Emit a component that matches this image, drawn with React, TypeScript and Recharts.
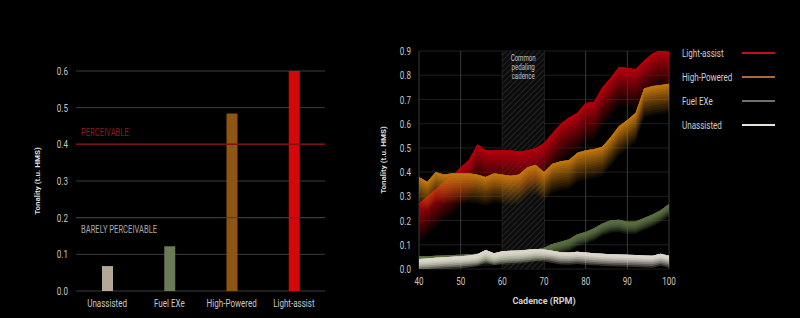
import React from "react";
import {
  BarChart,
  Bar,
  Cell,
  AreaChart,
  Area,
  XAxis,
  YAxis,
  CartesianGrid,
  ReferenceLine,
  ReferenceArea,
} from "recharts";

// Left: average tonality per bike
const bikeNames = ["Unassisted", "Fuel EXe", "High-Powered", "Light-assist"];
const bikeTonality = [0.068, 0.122, 0.484, 0.6];
const bikeColors = ["#b3a797", "#6b7b59", "#8f5512", "#d40808"];
const bikeTicks = [0, 0.1, 0.2, 0.3, 0.4, 0.5, 0.6];

// Right: tonality vs cadence
const cadence = [40, 42, 44, 46, 48, 50, 52, 54, 56, 58, 60, 62, 64, 66, 68, 70, 72, 74, 76, 78, 80, 82, 84, 86, 88, 90, 92, 94, 96, 98, 100];
const lightAssist = [0.27, 0.3, 0.33, 0.36, 0.385, 0.42, 0.45, 0.515, 0.49, 0.49, 0.49, 0.49, 0.485, 0.49, 0.5, 0.52, 0.56, 0.6, 0.625, 0.645, 0.685, 0.69, 0.75, 0.79, 0.835, 0.83, 0.825, 0.86, 0.89, 0.905, 0.895];
const highPowered = [0.38, 0.36, 0.4, 0.39, 0.395, 0.395, 0.395, 0.39, 0.38, 0.395, 0.39, 0.385, 0.39, 0.42, 0.43, 0.4, 0.435, 0.445, 0.45, 0.48, 0.49, 0.495, 0.505, 0.545, 0.59, 0.615, 0.645, 0.745, 0.755, 0.76, 0.765];
const fuelExe = [0.05, 0.05, 0.052, 0.053, 0.055, 0.056, 0.058, 0.06, 0.06, 0.062, 0.063, 0.065, 0.068, 0.072, 0.078, 0.085, 0.1, 0.11, 0.12, 0.14, 0.15, 0.165, 0.185, 0.198, 0.2, 0.192, 0.193, 0.208, 0.222, 0.24, 0.265];
const unassisted = [0.038, 0.04, 0.043, 0.046, 0.048, 0.05, 0.053, 0.058, 0.075, 0.062, 0.07, 0.072, 0.073, 0.076, 0.08, 0.078, 0.072, 0.066, 0.065, 0.068, 0.065, 0.062, 0.06, 0.058, 0.057, 0.056, 0.055, 0.053, 0.052, 0.06, 0.052];
const cadenceTicks = [40, 50, 60, 70, 80, 90, 100];
const tonalityTicks = [0, 0.1, 0.2, 0.3, 0.4, 0.5, 0.6, 0.7, 0.8, 0.9];

const FONT = "Roboto, 'Liberation Sans', sans-serif";
const SX = 0.7; // fake a condensed face

const barData = bikeNames.map((name, i) => ({ name, value: bikeTonality[i] }));
const lineData = cadence.map((rpm, i) => ({
  rpm,
  la: lightAssist[i],
  hp: highPowered[i],
  fe: fuelExe[i],
  un: unassisted[i],
}));

// each series is a stack of nested bands from the value downwards; band k has opacity boost/k
// (boost 1 = linear fade, more = a denser glow)
const series = [
  { key: "la", name: "Light-assist", color: "#b3000f", legend: "#c0101a", lift: 0, depth: 0.16, steps: 12, boost: 1 },
  { key: "hp", name: "High-Powered", color: "#c27612", legend: "#b0683a", lift: 0, depth: 0.12, steps: 12, boost: 1 },
  { key: "fe", name: "Fuel EXe", color: "#5a6d42", legend: "#707070", lift: 0.003, depth: 0.05, steps: 7, boost: 1.6 },
  { key: "un", name: "Unassisted", color: "#ddd6cc", legend: "#e8e4dc", lift: 0.003, depth: 0.05, steps: 7, boost: 1.6 },
];

function CondTick(props: any) {
  const { x, y, payload, textAnchor, fmt, color, size, shift } = props;
  const label = fmt ? fmt(payload.value) : payload.value;
  return (
    <g transform={`translate(${x},${y})`}>
      <text transform={`scale(${SX},1)`} textAnchor={textAnchor} fill={color} fontSize={size} dy={shift}>
        {label}
      </text>
    </g>
  );
}

function LineLabel(props: any) {
  const vb = props.viewBox || {};
  return (
    <g transform={`translate(${vb.x + 5},${vb.y + props.dyText})`}>
      <text transform="scale(0.76,1)" fill={props.color} fontSize={10}>
        {props.text}
      </text>
    </g>
  );
}

function CadenceLabel(props: any) {
  const vb = props.viewBox || {};
  const cx = vb.x + vb.width / 2;
  return (
    <g transform={`translate(${cx},${vb.y + 10})`}>
      <text transform="scale(0.72,1)" textAnchor="middle" fill="#c4c4c4" fontSize={8.5}>
        <tspan x={0} dy={0}>Common</tspan>
        <tspan x={0} dy={9}>pedaling</tspan>
        <tspan x={0} dy={9}>cadence</tspan>
      </text>
    </g>
  );
}

const fmt1 = (v: number) => v.toFixed(1);
const fmt0 = (v: number) => String(v);

export default function App() {
  return (
    <div
      style={{
        position: "absolute",
        left: 0,
        top: 0,
        width: 800,
        height: 318,
        background: "#000",
        fontFamily: FONT,
        overflow: "hidden",
      }}
    >
      {/* Bar chart */}
      <div style={{ position: "absolute", left: 0, top: 0 }}>
        <BarChart width={340} height={318} data={barData} margin={{ top: 71, right: 15, bottom: 7, left: 36 }}>
          <CartesianGrid vertical={false} stroke="#3d3d3d" />
          <XAxis
            dataKey="name"
            axisLine={false}
            tickLine={false}
            tick={<CondTick color="#c8c8c8" size={11.5} shift="0.71em" />}
            height={20}
            interval={0}
          />
          <YAxis
            domain={[0, 0.6]}
            ticks={bikeTicks}
            axisLine={false}
            tickLine={false}
            tick={<CondTick color="#c8c8c8" size={11.5} shift="0.355em" fmt={fmt1} />}
            width={40}
            label={{
              value: "Tonality (t.u. HMS)",
              angle: -90,
              position: "insideLeft",
              offset: 1,
              fill: "#dddddd",
              fontSize: 8,
              fontWeight: 700,
              style: { textAnchor: "middle" },
            }}
          />
          <ReferenceLine
            y={0.4}
            stroke="#7a1414"
            strokeWidth={1.5}
            label={<LineLabel text="PERCEIVABLE" color="#8e1c1c" dyText={-8} />}
          />
          <ReferenceLine
            y={0.2}
            stroke="#3d3d3d"
            label={<LineLabel text="BARELY PERCEIVABLE" color="#a8a8a8" dyText={15} />}
          />
          <Bar dataKey="value" barSize={11} isAnimationActive={false}>
            {barData.map((d, i) => (
              <Cell key={d.name} fill={bikeColors[i]} />
            ))}
          </Bar>
        </BarChart>
      </div>

      {/* Cadence chart */}
      <div style={{ position: "absolute", left: 370, top: 0 }}>
        <AreaChart width={430} height={318} data={lineData} margin={{ top: 51, right: 131, bottom: 9, left: 9 }}>
          <defs>
            <pattern id="hatch" patternUnits="userSpaceOnUse" width={4} height={4} patternTransform="rotate(45)">
              <rect width={4} height={4} fill="#0c0c0c" />
              <line x1={0} y1={0} x2={0} y2={4} stroke="#3c3c3c" strokeWidth={1} />
            </pattern>
          </defs>
          <CartesianGrid vertical={false} stroke="#1e1e1e" />
          <CartesianGrid horizontal={false} stroke="#3a3a3a" />
          <XAxis
            type="number"
            dataKey="rpm"
            domain={[40, 100]}
            ticks={cadenceTicks}
            axisLine={false}
            tickLine={false}
            tick={<CondTick color="#c8c8c8" size={11.5} shift="0.71em" fmt={fmt0} />}
            height={40}
            label={{ value: "Cadence (RPM)", position: "insideBottom", offset: 5, fill: "#d0d0d0", fontSize: 9, fontWeight: 700 }}
          />
          <YAxis
            domain={[0, 0.9]}
            ticks={tonalityTicks}
            allowDataOverflow
            axisLine={false}
            tickLine={false}
            tick={<CondTick color="#c8c8c8" size={11.5} shift="0.355em" fmt={fmt1} />}
            width={40}
            label={{
              value: "Tonality (t.u. HMS)",
              angle: -90,
              position: "insideLeft",
              offset: 4,
              fill: "#dddddd",
              fontSize: 8,
              fontWeight: 700,
              style: { textAnchor: "middle" },
            }}
          />
          <ReferenceArea x1={60} x2={70} y1={0} y2={0.9} fill="url(#hatch)" fillOpacity={1} stroke="none" label={<CadenceLabel />} />
          {series.map((s) =>
            Array.from({ length: s.steps }, (_, i) => {
              const k = i + 1;
              return (
                <Area
                  key={`${s.key}-${k}`}
                  type="linear"
                  dataKey={(d: any) => [d[s.key] + s.lift - (s.depth * k) / s.steps, d[s.key] + s.lift]}
                  name={s.name}
                  stroke="none"
                  fill={s.color}
                  fillOpacity={Math.min(1, s.boost / k)}
                  dot={false}
                  activeDot={false}
                  isAnimationActive={false}
                />
              );
            })
          )}
        </AreaChart>
      </div>

      {/* Legend */}
      <div style={{ position: "absolute", left: 682, top: 45 }}>
        {series.map((s) => (
          <div key={s.key} style={{ position: "relative", height: 24, width: 100 }}>
            <span
              style={{
                position: "absolute",
                left: 0,
                top: 0,
                color: "#cfcfcf",
                fontSize: 11.5,
                lineHeight: "16px",
                whiteSpace: "nowrap",
                transform: `scaleX(${SX})`,
                transformOrigin: "left center",
              }}
            >
              {s.name}
            </span>
            <span style={{ position: "absolute", left: 60, top: 7, width: 33, height: 2, background: s.legend }} />
          </div>
        ))}
      </div>
    </div>
  );
}
